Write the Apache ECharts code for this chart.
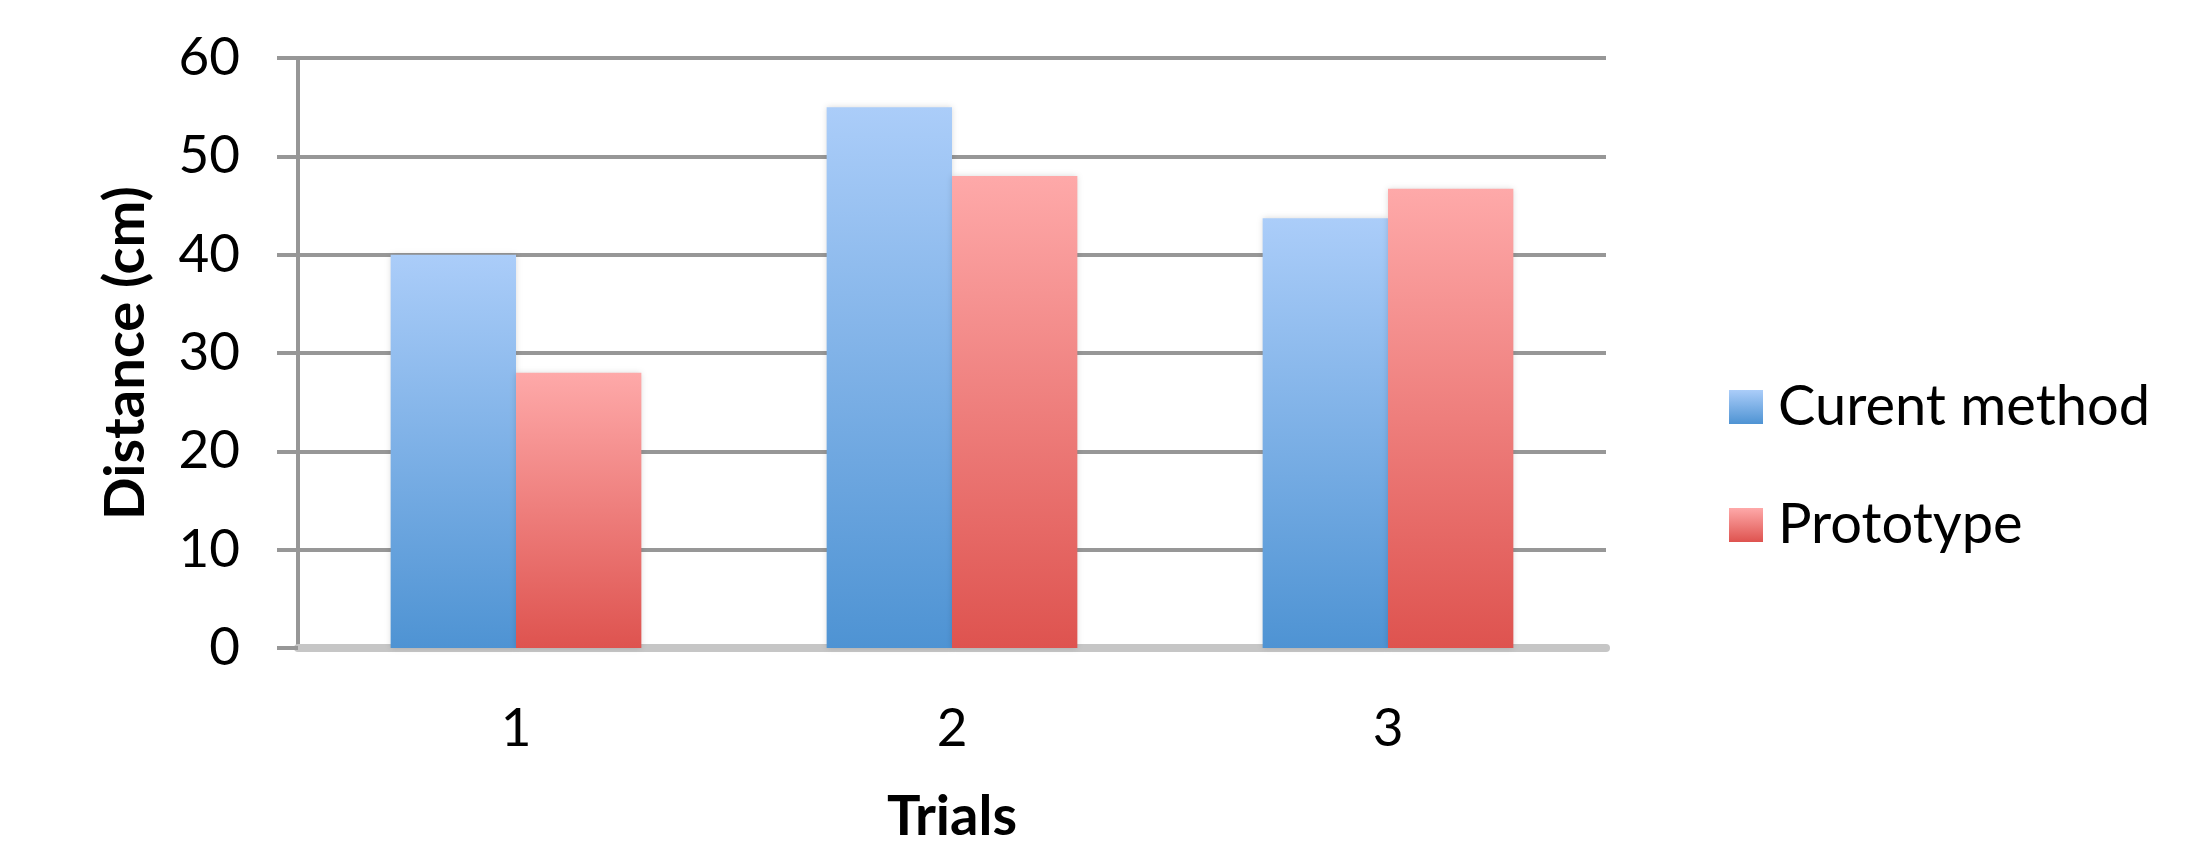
<!DOCTYPE html>
<html>
<head>
<meta charset="utf-8">
<script src="https://cdn.jsdelivr.net/npm/echarts@6/dist/echarts.min.js"></script>
<style>
html,body{margin:0;padding:0;background:#fff;}
#chart{width:2194px;height:850px;}
</style>
</head>
<body>
<div id="chart"></div>
<script>
var categories = ['1', '2', '3'];
var seriesNames = ['Curent method', 'Prototype'];
var currentMethod = [40, 55, 43.7];
var prototype = [28, 48, 46.7];
var yTicks = [0, 10, 20, 30, 40, 50, 60];

var FONT = 'Lato';
function grad(top, bottom) {
  return new echarts.graphic.LinearGradient(0, 0, 0, 1, [
    {offset: 0, color: top}, {offset: 1, color: bottom}
  ]);
}
var chart = echarts.init(document.getElementById('chart'));
chart.setOption({
  animation: false,
  backgroundColor: '#ffffff',
  grid: {left: 298, right: 588, top: 58, bottom: 198, containLabel: false},
  legend: {
    orient: 'vertical',
    left: 1724,
    top: 374,
    itemWidth: 34,
    itemHeight: 34,
    itemGap: 62,
    icon: 'rect',
    textStyle: {fontFamily: FONT, fontSize: 56, color: '#000', lineHeight: 56, padding: [0, 0, 0, 10]},
    data: seriesNames
  },
  xAxis: {
    type: 'category',
    data: categories,
    name: 'Trials',
    nameLocation: 'middle',
    nameGap: 141,
    nameTextStyle: {fontFamily: FONT, fontSize: 56, fontWeight: 'bold', color: '#000'},
    axisLine: {lineStyle: {color: '#c6c6c6', width: 8}},
    axisTick: {show: false},
    axisLabel: {fontFamily: FONT, fontSize: 53, color: '#000', margin: 54}
  },
  yAxis: {
    type: 'value',
    min: yTicks[0],
    max: yTicks[yTicks.length - 1],
    interval: 10,
    name: 'Distance (cm)',
    nameLocation: 'middle',
    nameGap: 144,
    nameTextStyle: {fontFamily: FONT, fontSize: 56, fontWeight: 'bold', color: '#000'},
    axisLine: {show: true, lineStyle: {color: '#979797', width: 4}},
    axisTick: {show: true, length: 21, lineStyle: {color: '#979797', width: 4}},
    splitLine: {lineStyle: {color: '#979797', width: 4}},
    axisLabel: {fontFamily: FONT, fontSize: 53, color: '#000', margin: 58}
  },
  series: [
    {
      name: seriesNames[0],
      type: 'bar',
      data: currentMethod,
      barGap: '0%',
      barCategoryGap: '42.5%',
      itemStyle: {color: grad('#abcdf9', '#4e93d3'), shadowColor: 'rgba(0,0,0,0.15)', shadowBlur: 6}
    },
    {
      name: seriesNames[1],
      type: 'bar',
      data: prototype,
      barGap: '0%',
      barCategoryGap: '42.5%',
      itemStyle: {color: grad('#fea9a9', '#de534f'), shadowColor: 'rgba(0,0,0,0.15)', shadowBlur: 6}
    }
  ]
});
</script>
</body>
</html>
